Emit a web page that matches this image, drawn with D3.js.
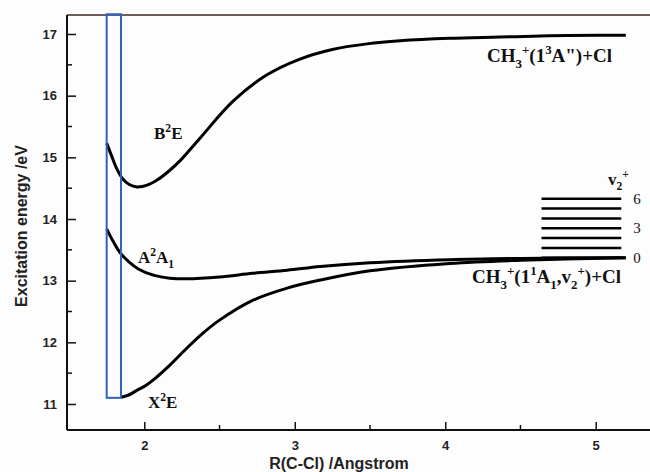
<!DOCTYPE html>
<html>
<head>
<meta charset="utf-8">
<script src="https://cdn.jsdelivr.net/npm/d3@7"></script>
<style>
  body { margin: 0; background: #fdfdfe; }
  svg { display: block; }
  .axis path, .axis line { stroke: #111; }
  .axis text { font-family: Arial, "Liberation Sans", sans-serif; font-weight: bold; font-size: 13px; fill: #222; }
  .lbl { font-family: "Liberation Serif", "Times New Roman", serif; font-weight: bold; fill: #111; }
</style>
</head>
<body>
<script>
// potential curves, R in Angstrom, energy in eV
var bR = [1.75, 1.78, 1.82, 1.86, 1.90, 1.95, 2.02, 2.09, 2.16, 2.24, 2.37, 2.59, 2.81, 3.03, 3.25, 3.48, 3.70, 4.03, 4.36, 4.69, 5.03, 5.2];
var bE = [15.23, 15.04, 14.80, 14.64, 14.56, 14.52, 14.55, 14.64, 14.77, 14.95, 15.31, 15.91, 16.33, 16.59, 16.75, 16.84, 16.89, 16.93, 16.95, 16.97, 16.98, 16.98];

var aR = [1.75, 1.79, 1.84, 1.90, 1.96, 2.06, 2.17, 2.28, 2.50, 2.72, 2.95, 3.17, 3.50, 4.03, 4.50, 5.2];
var aE = [13.84, 13.65, 13.45, 13.30, 13.19, 13.09, 13.04, 13.03, 13.06, 13.12, 13.17, 13.23, 13.29, 13.34, 13.36, 13.37];

var xR = [1.846, 1.90, 1.95, 2.01, 2.06, 2.17, 2.28, 2.39, 2.50, 2.72, 2.95, 3.17, 3.50, 4.03, 4.50, 5.2];
var xE = [11.11, 11.15, 11.22, 11.30, 11.39, 11.63, 11.90, 12.15, 12.36, 12.68, 12.88, 13.01, 13.16, 13.28, 13.33, 13.37];

// v2+ vibrational levels of CH3+
var vLevels = [13.37, 13.53, 13.69, 13.85, 14.01, 14.17, 14.33];
var vLabels = {0: "0", 3: "3", 6: "6"};
var vRange = [4.64, 5.17];

// highlighted Franck-Condon region
var boxR = [1.75, 1.845];
var boxE = [11.1, 17.32];

var xTicks = [2, 3, 4, 5];
var xMinor = [2.5, 3.5, 4.5];
var yTicks = [11, 12, 13, 14, 15, 16, 17];
var yMinor = [11.5, 12.5, 13.5, 14.5, 15.5, 16.5];

var W = 650, H = 472;
var x = d3.scaleLinear().domain([2, 5]).range([144.3, 595.7]);
var y = d3.scaleLinear().domain([11, 17]).range([404, 34]);
var plotLeft = 67, plotTop = 15, plotBottom = 430;

var svg = d3.select("body").append("svg").attr("width", W).attr("height", H);

// frame (top line, no right edge)
svg.append("line").attr("x1", plotLeft).attr("x2", W).attr("y1", plotTop).attr("y2", plotTop)
  .attr("stroke", "#3a2a25").attr("stroke-width", 1.5);

var gx = svg.append("g").attr("class", "axis").attr("transform", "translate(0," + plotBottom + ")")
  .call(d3.axisBottom(x).tickValues(xTicks).tickSize(-8).tickSizeOuter(0).tickPadding(11).tickFormat(d3.format("d")));
gx.select(".domain").attr("d", "M" + plotLeft + ",0H" + W).attr("stroke-width", 2);
gx.selectAll(".tick line").attr("stroke-width", 1.5);
gx.selectAll(".minor").data(xMinor).enter().append("line").attr("class", "minor")
  .attr("x1", x).attr("x2", x).attr("y1", 0).attr("y2", -5).attr("stroke", "#111").attr("stroke-width", 1.5);

var gy = svg.append("g").attr("class", "axis").attr("transform", "translate(" + plotLeft + ",0)")
  .call(d3.axisLeft(y).tickValues(yTicks).tickSize(-9).tickSizeOuter(0).tickPadding(10).tickFormat(d3.format("d")));
gy.select(".domain").attr("d", "M0," + plotTop + "V" + plotBottom).attr("stroke-width", 2);
gy.selectAll(".tick line").attr("stroke-width", 1.5);
gy.selectAll(".minor").data(yMinor).enter().append("line").attr("class", "minor")
  .attr("y1", y).attr("y2", y).attr("x1", 0).attr("x2", 5).attr("stroke", "#111").attr("stroke-width", 1.5);

svg.append("text").attr("x", 339).attr("y", 469).attr("text-anchor", "middle")
  .style("font-family", "Arial, 'Liberation Sans', sans-serif").style("font-weight", "bold").style("font-size", "16px")
  .attr("fill", "#222").text("R(C-Cl) /Angstrom");
svg.append("text").attr("transform", "translate(27,226) rotate(-90)").attr("text-anchor", "middle")
  .style("font-family", "Arial, 'Liberation Sans', sans-serif").style("font-weight", "bold").style("font-size", "16px")
  .attr("fill", "#222").text("Excitation energy /eV");

// curves
var line = d3.line().x(function(d){return x(d[0])}).y(function(d){return y(d[1])}).curve(d3.curveCatmullRom.alpha(0.5));
[[bR, bE], [aR, aE], [xR, xE]].forEach(function(c){
  svg.append("path").datum(d3.zip(c[0], c[1])).attr("d", line)
    .attr("fill", "none").attr("stroke", "#000").attr("stroke-width", 3);
});

// vibrational levels
svg.selectAll(".lev").data(vLevels).enter().append("line").attr("class", "lev")
  .attr("x1", x(vRange[0])).attr("x2", x(vRange[1])).attr("y1", y).attr("y2", y)
  .attr("stroke", "#000").attr("stroke-width", 2.5);
vLevels.forEach(function(e, i){
  if (vLabels[i] === undefined) return;
  svg.append("text").attr("class", "lbl").attr("x", x(vRange[1]) + 12).attr("y", y(e) + 5)
    .style("font-weight", "normal").style("font-size", "15px").text(vLabels[i]);
});

// blue box
svg.append("rect").attr("x", x(boxR[0])).attr("y", y(boxE[1])).attr("width", x(boxR[1]) - x(boxR[0]))
  .attr("height", y(boxE[0]) - y(boxE[1])).attr("fill", "none").attr("stroke", "#2e62c0").attr("stroke-width", 2);

// labels with super/subscripts
function label(px, py, parts, size) {
  var t = svg.append("text").attr("class", "lbl").attr("x", px).attr("y", py).style("font-size", size + "px");
  var shift = 0;
  parts.forEach(function(p){
    var s = p[1] === "sup" ? -size * 0.4 : p[1] === "sub" ? size * 0.3 : 0;
    t.append("tspan").attr("dy", s - shift).style("font-size", (p[1] ? size * 0.68 : size) + "px").text(p[0]);
    shift = s;
  });
}
label(154, 139, [["B"], ["2", "sup"], ["E"]], 17);
label(138, 263, [["A"], ["2", "sup"], ["A"], ["1", "sub"]], 17);
label(148, 408, [["X"], ["2", "sup"], ["E"]], 17);
label(487, 62, [["CH"], ["3", "sub"], ["+", "sup"], ["(1"], ["3", "sup"], ["A\")+Cl"]], 19);
label(472, 283, [["CH"], ["3", "sub"], ["+", "sup"], ["(1"], ["1", "sup"], ["A"], ["1", "sub"], [",v"], ["2", "sub"], ["+", "sup"], [")+Cl"]], 19);
label(608, 185, [["v"], ["2", "sub"], ["+", "sup"]], 17);
</script>
</body>
</html>
